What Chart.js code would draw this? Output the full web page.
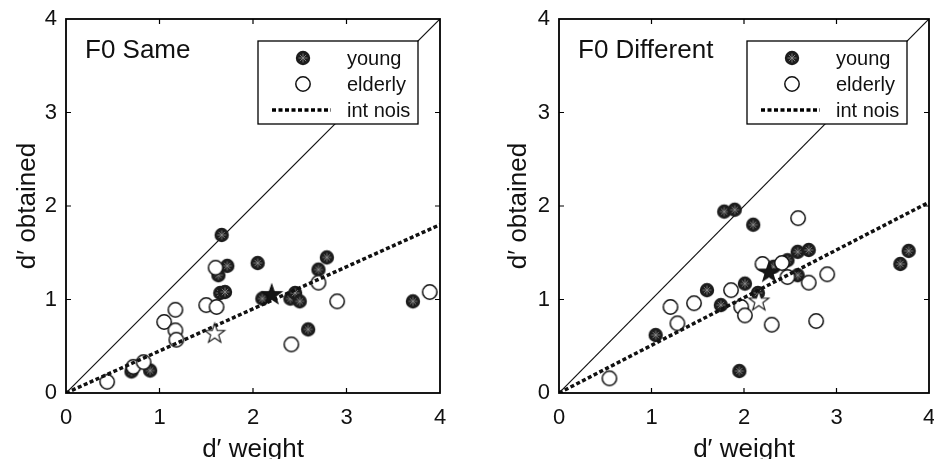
<!DOCTYPE html>
<html>
<head>
<meta charset="utf-8">
<script src="https://cdn.jsdelivr.net/npm/chart.js@4.4.1/dist/chart.umd.min.js"></script>
<style>
  html, body { margin: 0; padding: 0; background: #fff; overflow: hidden; }
  .panel { position: absolute; top: 0; width: 467px; height: 459px; }
  #leftPanel { left: 0; }
  #rightPanel { left: 467px; }
</style>
</head>
<body>
<div class="panel" id="leftPanel"><canvas id="sameChart" width="467" height="459"></canvas></div>
<div class="panel" id="rightPanel"><canvas id="diffChart" width="467" height="459"></canvas></div>
<script>
// axis ticks
const tickValues = [0, 1, 2, 3, 4];

// F0 Same panel
const sameYoungX = [0.70, 0.90, 1.665, 1.725, 1.63, 1.65, 1.70, 2.05, 2.10, 2.40, 2.45, 2.50, 2.59, 2.70, 2.79, 3.71];
const sameYoungY = [0.23, 0.24, 1.69, 1.36, 1.26, 1.07, 1.08, 1.39, 1.01, 1.01, 1.07, 0.98, 0.68, 1.32, 1.45, 0.98];
const sameElderlyX = [0.44, 0.72, 0.83, 1.05, 1.17, 1.17, 1.18, 1.50, 1.61, 1.60, 2.41, 2.70, 2.90, 3.89];
const sameElderlyY = [0.12, 0.28, 0.33, 0.76, 0.89, 0.67, 0.57, 0.94, 0.92, 1.34, 0.52, 1.18, 0.98, 1.08];
const sameYoungMean = [2.20, 1.06];
const sameElderlyMean = [1.59, 0.645];
const sameIntNoisEnd = 1.80; // value at d' weight = 4

// F0 Different panel
const diffYoungX = [1.045, 1.60, 1.75, 1.786, 1.90, 2.01, 2.10, 2.15, 1.95, 2.32, 2.47, 2.58, 2.70, 2.58, 3.69, 3.78];
const diffYoungY = [0.62, 1.10, 0.94, 1.94, 1.96, 1.17, 1.80, 1.07, 0.235, 1.35, 1.42, 1.51, 1.53, 1.26, 1.38, 1.52];
const diffElderlyX = [0.545, 1.205, 1.28, 1.46, 1.86, 1.97, 2.01, 2.20, 2.41, 2.47, 2.585, 2.70, 2.90, 2.30, 2.78];
const diffElderlyY = [0.157, 0.92, 0.745, 0.96, 1.10, 0.92, 0.83, 1.38, 1.39, 1.24, 1.87, 1.18, 1.27, 0.73, 0.77];
const diffYoungMean = [2.27, 1.30];
const diffElderlyMean = [2.16, 0.99];
const diffIntNoisEnd = 2.04;

const legendLabels = ["young", "elderly", "int nois"];
const FONT = "'Liberation Sans', Arial, Helvetica, sans-serif";

// --- marker images ---
function makeCircle(filled) {
    let c = document.createElement("canvas");
    c.width = 18; c.height = 18;
    let g = c.getContext("2d");
    g.beginPath();
    g.arc(9, 9, 7.2, 0, Math.PI * 2);
    if (filled) {
        g.fillStyle = "#1c1c1c";
        g.fill();
        g.strokeStyle = "#909090";
        g.lineWidth = 0.8;
        for (let k = 0; k < 4; k++) {
            let a = k * Math.PI / 4;
            g.beginPath();
            g.moveTo(9 - 4.5 * Math.cos(a), 9 - 4.5 * Math.sin(a));
            g.lineTo(9 + 4.5 * Math.cos(a), 9 + 4.5 * Math.sin(a));
            g.stroke();
        }
    } else {
        g.fillStyle = "#fff";
        g.fill();
        g.strokeStyle = "#111";
        g.lineWidth = 1.5;
        g.stroke();
    }
    return c;
}

function makeStar(filled) {
    let c = document.createElement("canvas");
    c.width = 24; c.height = 24;
    let g = c.getContext("2d");
    g.beginPath();
    for (let k = 0; k < 10; k++) {
        let r = k % 2 === 0 ? 10.5 : 4.2;
        let a = -Math.PI / 2 + k * Math.PI / 5;
        let px = 12 + r * Math.cos(a), py = 13 + r * Math.sin(a);
        if (k === 0) g.moveTo(px, py); else g.lineTo(px, py);
    }
    g.closePath();
    g.fillStyle = filled ? "#151515" : "#fff";
    g.fill();
    g.strokeStyle = "#111";
    g.lineWidth = 1.1;
    g.stroke();
    return c;
}

const youngDot = makeCircle(true);
const elderDot = makeCircle(false);
const youngStar = makeStar(true);
const elderStar = makeStar(false);

function toPoints(xs, ys) {
    return xs.map((x, i) => ({ x: x, y: ys[i] }));
}

// --- decoration plugin: box, inward ticks, panel label, legend ---
function panelPlugin(label) {
    return {
        id: "panelDeco",
        afterDatasetsDraw(chart) {
            const ctx = chart.ctx;
            const a = chart.chartArea;
            const xs = chart.scales.x, ys = chart.scales.y;
            ctx.save();
            ctx.strokeStyle = "#000";
            ctx.lineWidth = 1.8;
            ctx.strokeRect(a.left, a.top, a.right - a.left, a.bottom - a.top);
            ctx.lineWidth = 1.2;
            tickValues.slice(1, -1).forEach(v => {
                let px = xs.getPixelForValue(v);
                let py = ys.getPixelForValue(v);
                ctx.beginPath();
                ctx.moveTo(px, a.bottom); ctx.lineTo(px, a.bottom - 5);
                ctx.moveTo(px, a.top); ctx.lineTo(px, a.top + 5);
                ctx.moveTo(a.left, py); ctx.lineTo(a.left + 5, py);
                ctx.moveTo(a.right, py); ctx.lineTo(a.right - 5, py);
                ctx.stroke();
            });

            // panel label
            ctx.fillStyle = "#111";
            ctx.font = "26px " + FONT;
            ctx.textBaseline = "alphabetic";
            ctx.textAlign = "left";
            ctx.fillText(label, a.left + 19, a.top + 39);

            // legend box
            const bw = 160, bh = 83;
            const bx = a.right - 22 - bw, by = a.top + 22;
            ctx.fillStyle = "#fff";
            ctx.fillRect(bx, by, bw, bh);
            ctx.lineWidth = 1.3;
            ctx.strokeRect(bx, by, bw, bh);
            const rows = [by + 17, by + 43, by + 69];
            ctx.drawImage(youngDot, bx + 45 - 9, rows[0] - 9);
            ctx.drawImage(elderDot, bx + 45 - 9, rows[1] - 9);
            ctx.setLineDash([4, 2.5]);
            ctx.lineWidth = 3.5;
            ctx.beginPath();
            ctx.moveTo(bx + 14, rows[2]); ctx.lineTo(bx + 73, rows[2]);
            ctx.stroke();
            ctx.setLineDash([]);
            ctx.fillStyle = "#111";
            ctx.font = "20px " + FONT;
            ctx.textBaseline = "middle";
            legendLabels.forEach((t, i) => ctx.fillText(t, bx + 89, rows[i] + 1));
            ctx.restore();
        }
    };
}

function buildChart(canvasId, label, yX, yY, eX, eY, yMean, eMean, intEnd, pad, yTitlePad) {
    const ctx = document.getElementById(canvasId).getContext("2d");
    return new Chart(ctx, {
        type: "scatter",
        data: {
            datasets: [
                {
                    label: "diagonal",
                    data: [{ x: 0, y: 0 }, { x: 4, y: 4 }],
                    showLine: true, borderColor: "#111", borderWidth: 1.2,
                    pointRadius: 0, order: 5
                },
                {
                    label: "young",
                    data: toPoints(yX, yY),
                    pointStyle: youngDot, order: 4
                },
                {
                    label: "elderly",
                    data: toPoints(eX, eY),
                    pointStyle: elderDot, order: 3
                },
                {
                    label: "int nois",
                    data: [{ x: 0, y: 0 }, { x: 4, y: intEnd }],
                    showLine: true, borderColor: "#111", borderWidth: 3.5,
                    borderDash: [4, 2.5], pointRadius: 0, order: 2
                },
                {
                    label: "young mean",
                    data: [{ x: yMean[0], y: yMean[1] }],
                    pointStyle: youngStar, order: 1
                },
                {
                    label: "elderly mean",
                    data: [{ x: eMean[0], y: eMean[1] }],
                    pointStyle: elderStar, order: 1
                }
            ]
        },
        options: {
            responsive: false,
            animation: false,
            devicePixelRatio: 1,
            layout: { padding: pad },
            plugins: { legend: { display: false }, tooltip: { enabled: false } },
            scales: {
                x: {
                    type: "linear", min: 0, max: 4,
                    grid: { display: false, drawTicks: false }, border: { display: false },
                    ticks: { stepSize: 1, color: "#111", padding: 12, font: { family: FONT, size: 22 } },
                    title: {
                        display: true, text: "d\u2032 weight", color: "#111",
                        font: { family: FONT, size: 26, lineHeight: 1 }, padding: { top: 0, bottom: -4 }
                    },
                    afterFit(s) { s.height = 66; s.paddingLeft = 0; s.paddingRight = 0; }
                },
                y: {
                    type: "linear", min: 0, max: 4,
                    grid: { display: false, drawTicks: false }, border: { display: false },
                    ticks: { stepSize: 1, color: "#111", padding: 9, font: { family: FONT, size: 22 } },
                    title: {
                        display: true, text: "d\u2032 obtained", color: "#111",
                        font: { family: FONT, size: 26, lineHeight: 1 }, padding: { top: yTitlePad, bottom: 0 }
                    },
                    afterFit(s) { s.width = 66; s.paddingTop = 0; s.paddingBottom = 0; }
                }
            }
        },
        plugins: [panelPlugin(label)]
    });
}

buildChart("sameChart", "F0 Same", sameYoungX, sameYoungY, sameElderlyX, sameElderlyY,
    sameYoungMean, sameElderlyMean, sameIntNoisEnd, { left: 0, top: 19, right: 27, bottom: 0 }, 15);
buildChart("diffChart", "F0 Different", diffYoungX, diffYoungY, diffElderlyX, diffElderlyY,
    diffYoungMean, diffElderlyMean, diffIntNoisEnd, { left: 26, top: 19, right: 1, bottom: 0 }, 13);
</script>
</body>
</html>
